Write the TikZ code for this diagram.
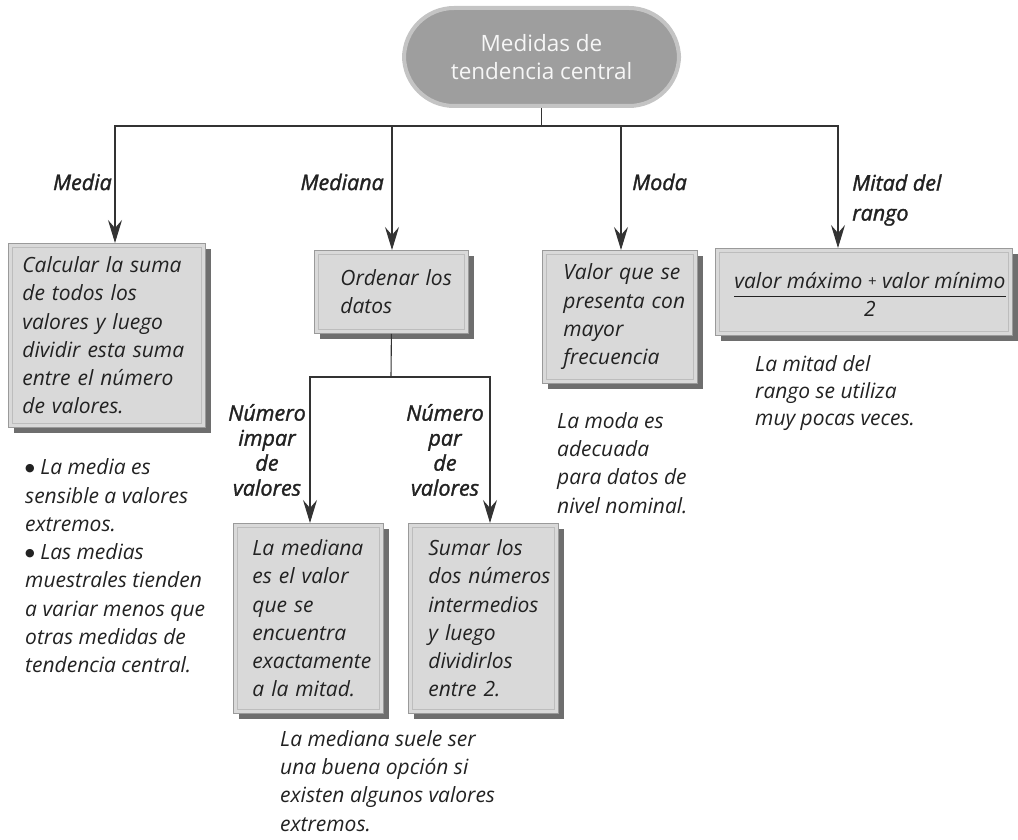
\documentclass[tikz,border=0pt]{standalone}
\usepackage{fontspec}
\setmainfont{Open Sans}
\newfontfamily\hand{Open Sans}
\newfontfamily\handb{Open Sans}[ItalicFeatures={FakeBold=1.5}]
\newfontfamily\symfont{DejaVu Sans}
\usetikzlibrary{arrows.meta,shadows}
\definecolor{boxfill}{HTML}{D9D9D9}
\definecolor{boxedge}{HTML}{9A9A9A}
\definecolor{bevelc}{HTML}{BDBDBD}
\definecolor{shadowgray}{HTML}{6E6E6E}
\definecolor{linec}{HTML}{333333}
\definecolor{pillfill}{HTML}{9E9E9E}
\definecolor{pillrim}{HTML}{C4C4C4}
\definecolor{pilltext}{HTML}{F6F6F6}
\definecolor{textc}{HTML}{222222}
\newcommand{\bigdot}{{\symfont\fontsize{11}{11}\selectfont\raisebox{3.5pt}{●}}}
\begin{document}
\begin{tikzpicture}[x=1pt,y=-1pt,
  box/.style={draw=boxedge, fill=boxfill, line width=0.8pt, rectangle, anchor=north west,
    inner ysep=0pt, inner xsep=4pt, align=left, text=textc,
    font=\hand\itshape\fontsize{21}{28.3}\selectfont,
    general shadow={fill=shadowgray, shadow xshift=6pt, shadow yshift=-6pt}},
  boxsize/.style n args={4}{minimum width=#1, text width=#2, minimum height=#3,
    execute at begin node={\leftskip=#4\relax}},
  bevel/.style={draw=bevelc, line width=0.8pt},
  pill/.style={fill=pillfill, draw=pillrim, line width=4pt, rounded corners=50pt,
    minimum width=275pt, minimum height=98pt, align=center, text=pilltext,
    font=\fontsize{22.5}{28}\selectfont},
  conn/.style={draw=linec, line width=1.1pt},
  arr/.style={conn, -{Stealth[length=23pt,width=14pt,inset=8pt]}},
  lab/.style={font=\handb\itshape\fontsize{21.5}{25}\selectfont, inner sep=0pt, text=textc},
  note/.style={font=\hand\itshape\fontsize{21}{28.3}\selectfont, align=left, inner sep=0pt, text=textc, anchor=west},
  rule/.style={draw=textc, line width=1pt}
]
\useasboundingbox (0,0) rectangle (1018,840);

% top
\node[pill] (top) at (541.5,57) {Medidas de\\tendencia central};

% boxes
\node[box, boxsize={197pt}{189pt}{184pt}{10pt}] (media) at (8,243)
  {Calcular~la~suma\\de~todos~los\\valores~y~luego\\dividir~esta~suma\\entre~el~número\\de~valores.};
\node[box, boxsize={154pt}{146pt}{83pt}{22pt}] (ordenar) at (314,250)
  {Ordenar~los\\datos};
\node[box, boxsize={155pt}{147pt}{133pt}{17pt}] (moda) at (542,250)
  {Valor~que~se\\presenta~con\\mayor\\frecuencia};
\node[box, minimum width=297pt, minimum height=87pt] (mitad) at (715,248) {};
\node[box, boxsize={150pt}{142pt}{190pt}{15pt}] (impar) at (233,523)
  {La~mediana\\es~el~valor\\que~se\\encuentra\\exactamente\\a~la~mitad.};
\node[box, boxsize={150pt}{142pt}{190pt}{16pt}] (par) at (408,523)
  {Sumar~los\\dos~números\\intermedios\\y~luego\\dividirlos\\entre~2.};

\foreach \n in {media,ordenar,moda,mitad,impar,par}
  \draw[bevel] ([shift={(4pt,-4pt)}]\n.north west) rectangle ([shift={(-4pt,4pt)}]\n.south east);

% fraction
\node[font=\hand\itshape\fontsize{21}{24}\selectfont, inner sep=0pt, text=textc] (num) at (870,281)
  {valor máximo {\fontsize{15}{15}\selectfont\raisebox{2pt}{+}} valor mínimo};
\node[font=\hand\itshape\fontsize{21}{24}\selectfont, inner sep=0pt, text=textc] (den) at (870,309) {2};
\draw[rule] ([yshift=-7pt]num.south west) -- ([yshift=-7pt]num.south east);

% connectors
\coordinate (hub) at (541.5,126);
\coordinate (inMedia) at (115,243);
\coordinate (inMediana) at (392,250);
\coordinate (inModa) at (621,250);
\coordinate (inMitad) at (838,248);
\draw[conn] (top.south) -- (hub);
\draw[arr] (hub) -| (inMedia);
\draw[arr] (hub) -| (inMediana);
\draw[arr] (hub) -| (inModa);
\draw[arr] (hub) -| (inMitad);

\coordinate (hub2) at (391,377);
\coordinate (inImpar) at (310,523);
\coordinate (inPar) at (490,523);
\draw[conn] (ordenar.south) -- (hub2);
\draw[arr] (hub2) -| (inImpar);
\draw[arr] (hub2) -| (inPar);

% labels
\node[lab, anchor=east] (lmedia) at (112,182) {Media};
\node[lab, anchor=east] (lmediana) at (384,182) {Mediana};
\node[lab, anchor=west] (lmoda) at (632,182) {Moda};
\node[lab, anchor=west, align=left, font=\handb\itshape\fontsize{21.5}{30}\selectfont] (lmitad) at (852,200) {Mitad del\\rango};
\node[lab, align=center] (limpar) at (267,450) {Número\\impar\\de\\valores};
\node[lab, align=center] (lpar) at (445,450) {Número\\par\\de\\valores};

% notes
\node[note] (nmedia) at (25,566) {\bigdot\ La media es\\sensible a valores\\extremos.\\\bigdot\ Las medias\\muestrales tienden\\a variar menos que\\otras medidas de\\tendencia central.};
\node[note] (nmediana) at (280,781) {La mediana suele ser\\una buena opción si\\existen algunos valores\\extremos.};
\node[note] (nmoda) at (557,463) {La moda es\\adecuada\\para datos de\\nivel nominal.};
\node[note, font=\hand\itshape\fontsize{21}{27}\selectfont] (nmitad) at (755,393) {La mitad del\\rango se utiliza\\muy pocas veces.};
\end{tikzpicture}
\end{document}
